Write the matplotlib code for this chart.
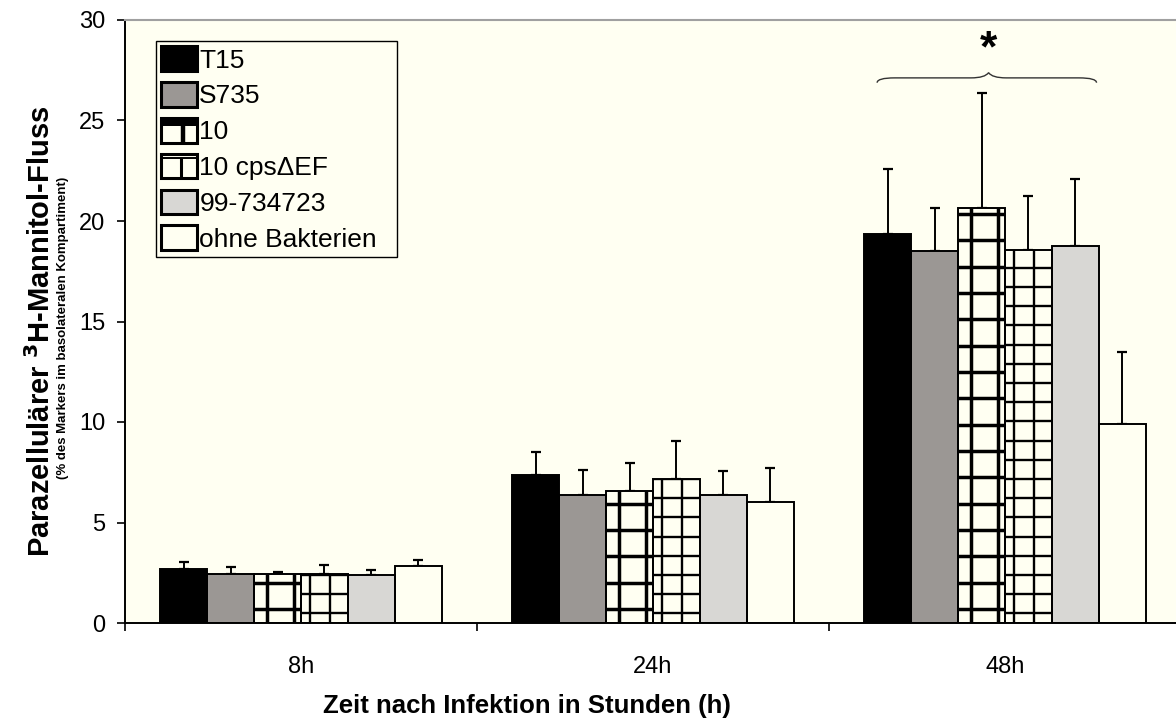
import matplotlib
matplotlib.use("Agg")
import matplotlib.pyplot as plt
import numpy as np
from matplotlib.patches import Rectangle, PathPatch
from matplotlib.lines import Line2D
from matplotlib.path import Path
from matplotlib.legend_handler import HandlerBase

plt.rcParams["font.family"] = ["Liberation Sans", "DejaVu Sans"]

# data
timepoints = ["8h", "24h", "48h"]
strains = ["T15", "S735", "10", "10 cps\u0394EF", "99-734723", "ohne Bakterien"]
means = {
    "T15": [2.67, 7.36, 19.37],
    "S735": [2.45, 6.37, 18.50],
    "10": [2.42, 6.58, 20.65],
    "10 cps\u0394EF": [2.45, 7.18, 18.56],
    "99-734723": [2.39, 6.37, 18.77],
    "ohne Bakterien": [2.82, 6.03, 9.90],
}
upper_err = {
    "T15": [0.38, 1.15, 3.22],
    "S735": [0.34, 1.23, 2.15],
    "10": [0.13, 1.39, 5.70],
    "10 cps\u0394EF": [0.45, 1.89, 2.68],
    "99-734723": [0.26, 1.19, 3.33],
    "ohne Bakterien": [0.31, 1.67, 3.60],
}

BG = "#FFFFF2"
face = {
    "T15": "black",
    "S735": "#9B9794",
    "10": BG,
    "10 cps\u0394EF": BG,
    "99-734723": "#D8D7D4",
    "ohne Bakterien": BG,
}
# grid pattern: (first line, step, vertical line positions as bar-width fraction, lw)
patterns = {
    "10": (0.70, 1.31, [0.265, 0.85], 2.5),
    "10 cps\u0394EF": (0.48, 0.955, [0.19, 0.61], 1.7),
}

fig = plt.figure(figsize=(11.76, 7.18), dpi=100)
fig.patch.set_facecolor("white")
ax = fig.add_axes([125 / 1176, 95 / 718, 1056 / 1176, 603 / 718])
ax.set_facecolor(BG)

x = np.arange(len(timepoints))
width = 0.8 / len(strains)

for i, s in enumerate(strains):
    pos = x + (i - 2.5) * width
    bars = ax.bar(pos, means[s], width, color=face[s], edgecolor="none", zorder=2)
    if s in patterns:
        y0, step, xfr, lw = patterns[s]
        for b in bars:
            bx, bw, bh = b.get_x(), b.get_width(), b.get_height()
            hl = ax.hlines(np.arange(y0, bh, step), bx, bx + bw, colors="black", lw=lw, zorder=2.1)
            vl = ax.vlines(bx + bw * np.array(xfr), 0, bh, colors="black", lw=lw, zorder=2.1)
            hl.set_clip_path(b)
            vl.set_clip_path(b)
    ax.bar(pos, means[s], width, fill=False, edgecolor="black", lw=1.4, zorder=2.2)
    ax.errorbar(pos, means[s], yerr=[np.zeros(len(x)), upper_err[s]], fmt="none",
                ecolor="black", elinewidth=1.4, capsize=3.5, capthick=1.6, zorder=1.5)

ax.set_ylim(0, 30)
ax.set_xlim(-0.5, 2.5)
ax.set_yticks(np.arange(0, 31, 5))
ax.set_xticks(np.arange(-0.5, 2.6, 1.0))
ax.set_xticklabels([])
ax.set_xticks(x, minor=True)
ax.set_xticklabels(timepoints, minor=True)
ax.tick_params(axis="x", which="minor", length=0, pad=24, labelsize=17)
ax.tick_params(axis="x", which="major", length=6, width=1.2, direction="out")
ax.tick_params(axis="y", length=6, width=1.2, direction="out", pad=8, labelsize=17)
for side in ["left", "bottom"]:
    ax.spines[side].set_linewidth(1.4)
ax.spines["top"].set_color("#A0A0A0")
ax.spines["top"].set_linewidth(1.5)
ax.spines["right"].set_visible(False)

fig.text(527 / 1176, 1 - 706 / 718, "Zeit nach Infektion in Stunden (h)", fontsize=18.5,
         fontweight="bold", ha="center", va="center")
fig.text(41 / 1176, 1 - 331 / 718, "Parazellulärer $^{\\mathbf{3}}$H-Mannitol-Fluss", rotation=90,
         fontsize=21, fontweight="bold", ha="center", va="center")
fig.text(63 / 1176, 1 - 328 / 718, "(% des Markers im basolateralen Kompartiment)", rotation=90,
         fontsize=9.5, fontweight="bold", ha="center", va="center")

# significance brace over 48h group
g = 2
left = g + (0 - 2.5) * width - 0.03
right = g + (4 - 2.5) * width + width * 0.45
mid = g + (2 - 2.5) * width + 0.02
y_end, y_flat, y_peak = 26.88, 27.12, 27.38
verts = [(left, y_end), (left, y_flat), (left + 0.05, y_flat), (left + 0.12, y_flat),
         (mid - 0.05, y_flat), (mid - 0.01, y_flat), (mid, y_peak),
         (mid + 0.01, y_flat), (mid + 0.05, y_flat), (right - 0.12, y_flat),
         (right - 0.05, y_flat), (right, y_flat), (right, y_end)]
codes = [Path.MOVETO, Path.CURVE3, Path.CURVE3, Path.LINETO, Path.LINETO,
         Path.CURVE3, Path.CURVE3, Path.CURVE3, Path.CURVE3, Path.LINETO,
         Path.LINETO, Path.CURVE3, Path.CURVE3]
ax.add_patch(PathPatch(Path(verts, codes), fill=False, edgecolor="#333333", lw=1.0, zorder=3))
ax.text(mid, 28.5, "*", fontsize=32, fontweight="bold", ha="center", va="center")


class GridHandler(HandlerBase):
    def __init__(self, kind):
        super().__init__()
        self.kind = kind

    def create_artists(self, legend, orig_handle, xdescent, ydescent, width, height, fontsize, trans):
        x0, y0 = -xdescent, -ydescent
        arts = [Rectangle((x0, y0), width, height, facecolor=BG, edgecolor="none", transform=trans)]
        if self.kind == "10":
            arts.append(Rectangle((x0, y0 + height * 0.68), width, height * 0.32, facecolor="black",
                                  edgecolor="none", transform=trans))
            arts.append(Line2D([x0 + width * 0.6] * 2, [y0, y0 + height * 0.7], color="black", lw=3.2,
                               solid_capstyle="butt", transform=trans))
        else:
            for fr in (0.82, 0.93):
                arts.append(Line2D([x0, x0 + width], [y0 + height * fr] * 2, color="black", lw=1.4,
                                   transform=trans))
            arts.append(Line2D([x0 + width * 0.55] * 2, [y0, y0 + height * 0.82], color="black", lw=2.2,
                               solid_capstyle="butt", transform=trans))
        arts.append(Rectangle((x0, y0), width, height, fill=False, edgecolor="black", lw=2.2,
                              transform=trans))
        return arts


handles = []
hmap = {}
for s in strains:
    h = Rectangle((0, 0), 1, 1, facecolor=face[s], edgecolor="black", lw=2.2)
    handles.append(h)
    if s in patterns:
        hmap[h] = GridHandler(s)

leg = ax.legend(handles, strains, handler_map=hmap, loc="upper left", mode="expand",
                bbox_to_anchor=(156 / 1176, 1 - 258 / 718, 241 / 1176, 217 / 718),
                bbox_transform=fig.transFigure,
                borderaxespad=0, fontsize=19, frameon=True, fancybox=False, framealpha=1,
                edgecolor="black", facecolor=BG, handlelength=1.36, handleheight=1.06,
                handletextpad=0.08, labelspacing=0.36, borderpad=0.2)
leg.get_frame().set_linewidth(1.0)
leg.set_zorder(5)

fig.savefig("out.png", dpi=100)
